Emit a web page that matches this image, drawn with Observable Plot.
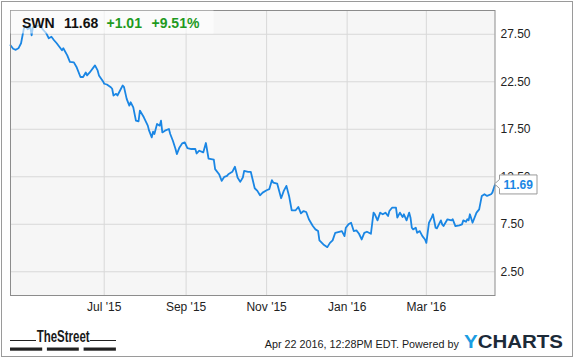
<!DOCTYPE html>
<html>
<head>
<meta charset="utf-8">
<script src="https://cdn.jsdelivr.net/npm/d3@7"></script>
<script src="https://cdn.jsdelivr.net/npm/@observablehq/plot@0.6"></script>
<style>
  html, body { margin: 0; padding: 0; background: #fff; }
  #wrap { position: relative; width: 575px; height: 358px; background: #fff; overflow: hidden; }
  #wrap > svg { position: absolute; left: 0; top: 0; }
  #border { position: absolute; left: 1px; top: 1px; width: 572px; height: 356px; border: 1px solid #9a9a9a; box-sizing: border-box; pointer-events: none; }
</style>
</head>
<body>
<div id="wrap"><div id="border"></div></div>
<script>
// ---- data ----
const ticker = "SWN";
const lastPrice = "11.68";
const change = "+1.01";
const changePct = "+9.51%";
const footerText = "Apr 22 2016, 12:28PM EDT. Powered by";
const startDate = "2015-04-21";
const endDate = "2016-04-22";
const dayOffsets = [
  0,2,4,6,8,9,10,11,13,15,
  16,17,20,22,25,27,29,31,33,35,
  37,39,40,43,45,48,50,53,55,57,
  58,60,64,66,67,70,71,73,76,77,
  78,80,81,83,85,86,88,90,91,93,
  95,97,98,101,104,105,107,108,109,111,
  113,114,115,117,120,121,123,125,126,128,
  130,132,134,137,140,141,143,146,148,150,
  154,155,158,160,162,164,165,168,170,172,
  174,176,177,180,182,185,187,189,191,194,
  196,198,199,202,205,207,209,211,213,216,
  218,220,222,224,226,229,231,233,234,237,
  240,242,244,246,249,251,253,254,256,258,
  260,262,264,266,268,270,273,275,276,278,
  280,282,284,286,287,289,292,293,295,297,
  298,300,302,303,304,305,307,308,310,312,
  314,315,317,319,320,322,323,326,327,328,
  331,334,335,337,340,342,343,345,346,347,
  348,350,353,355,357,359,361,364,365,367
];
const prices = [
  26.34,25.97,25.86,26.02,26.55,27.29,28.03,28.45,28.03,28.24,
  27.39,28.24,28.35,28.45,27.92,27.61,27.08,27.24,26.87,26.55,
  26.18,25.81,26.02,25.28,24.59,24.54,24.06,23.00,23.00,23.48,
  23.17,23.48,24.22,23.69,23.17,22.56,22.29,22.21,21.92,21.76,
  21.05,21.23,21.05,21.58,22.11,21.93,20.70,19.99,20.34,19.81,
  18.41,18.33,19.47,18.76,17.88,17.35,16.64,17.25,17.00,18.06,
  17.88,18.41,17.17,17.35,17.53,17.00,16.29,15.42,14.89,15.59,
  16.01,16.11,15.52,15.42,15.42,14.95,15.24,15.06,16.05,14.42,
  14.29,13.30,12.77,12.07,12.49,12.59,12.77,13.02,13.55,12.42,
  11.96,12.42,13.12,13.02,13.02,11.29,11.01,10.55,10.83,11.08,
  11.19,12.14,11.89,11.78,10.24,11.01,11.54,10.48,8.97,8.97,
  9.32,8.65,8.89,8.79,8.02,7.31,6.96,6.78,5.80,5.37,
  5.09,5.54,5.80,6.60,6.71,6.78,6.25,7.13,7.49,7.66,
  6.78,6.85,6.50,5.90,6.60,6.71,6.50,8.72,8.55,7.91,
  8.72,8.55,8.72,8.37,8.89,9.24,9.24,8.19,8.72,8.26,
  8.55,7.91,8.72,8.19,7.13,6.96,7.13,6.60,6.78,6.25,
  5.90,5.54,7.66,8.19,8.55,7.13,7.07,7.91,7.49,7.31,
  8.02,7.91,8.02,7.31,7.38,7.49,7.91,7.76,8.02,7.91,
  8.55,7.66,8.72,9.07,10.48,10.66,10.48,10.66,10.83,11.69
];
const yTicks = [2.5, 7.5, 12.5, 17.5, 22.5, 27.5];
const xTickDates = ["2015-07-01", "2015-09-01", "2015-11-01", "2016-01-01", "2016-03-01"];
const xTickLabels = ["Jul '15", "Sep '15", "Nov '15", "Jan '16", "Mar '16"];

// ---- build ----
const start = new Date(startDate + "T00:00:00Z");
const data = dayOffsets.map((d, i) => ({ date: d3.utcDay.offset(start, d), price: prices[i] }));
const xTicks = xTickDates.map(s => new Date(s + "T00:00:00Z"));
const labelFor = d => { const i = xTicks.findIndex(t => +t === +d); return i >= 0 ? xTickLabels[i] : ""; };
const FONT = "'Liberation Sans', Arial, Helvetica, sans-serif";

const plot = Plot.plot({
  width: 575,
  height: 320,
  marginLeft: 10,
  marginRight: 80.5,
  marginTop: 10,
  marginBottom: 25,
  style: { fontFamily: FONT, fontSize: "12px", background: "transparent", color: "#222" },
  x: { type: "utc", domain: [start, new Date(endDate + "T00:00:00Z")] },
  y: { domain: [0, 30] },
  marks: [
    Plot.frame({ fill: "#f6f6f6", stroke: null }),
    Plot.gridY(yTicks, { stroke: "#d8d8d8", strokeOpacity: 1 }),
    Plot.gridX(xTicks, { stroke: "#d8d8d8", strokeOpacity: 1 }),
    Plot.line(data, { x: "date", y: "price", stroke: "#1a86e4", strokeWidth: 1.8 }),
    Plot.frame({ stroke: "#8c8c8c" }),
    Plot.axisY(yTicks, { anchor: "right", tickSize: 0, tickPadding: 5.5, tickFormat: d => d.toFixed(2), fill: "#222", fontSize: 12, label: null }),
    Plot.axisX(xTicks, { anchor: "bottom", tickSize: 0, tickPadding: 7, tickFormat: labelFor, fill: "#222", fontSize: 12, label: null })
  ]
});
const wrap = document.getElementById("wrap");
wrap.insertBefore(plot, wrap.firstChild);

// overlay: header box, last-value flag, footer
const sy = plot.scale("y");
const yOf = sy.apply ? v => sy.apply(v)
  : v => sy.range[0] + (v - sy.domain[0]) / (sy.domain[1] - sy.domain[0]) * (sy.range[1] - sy.range[0]);
const sx = plot.scale("x");
const rightEdge = sx.range[1];
const last = prices[prices.length - 1];
const ly = yOf(last);

const ov = d3.create("svg").attr("width", 575).attr("height", 358)
  .style("position", "absolute").style("left", 0).style("top", 0)
  .style("font-family", FONT);

// header
ov.append("rect").attr("x", 10.5).attr("y", 10.5).attr("width", 203).attr("height", 23)
  .attr("fill", "#fff").attr("fill-opacity", 0.6);
const hdr = [
  { t: ticker, x: 22, c: "#111" },
  { t: lastPrice, x: 64, c: "#111" },
  { t: change, x: 106.5, c: "#1f9a1f" },
  { t: changePct, x: 151.5, c: "#1f9a1f" }
];
hdr.forEach(h => ov.append("text").attr("x", h.x).attr("y", 28).attr("fill", h.c)
  .attr("font-size", 14).attr("font-weight", "bold").text(h.t));

// last value flag
const bx = rightEdge + 5;
ov.append("path")
  .attr("d", `M${rightEdge},${ly} L${bx},${ly - 4.5} L${bx},${ly - 9} L${bx + 37.5},${ly - 9} L${bx + 37.5},${ly + 10} L${bx},${ly + 10} L${bx},${ly + 4.5} Z`)
  .attr("fill", "#fff").attr("stroke", "#9a9a9a").attr("stroke-width", 1);
ov.append("text").attr("x", bx + 18.75).attr("y", ly + 4.8).attr("text-anchor", "middle")
  .attr("fill", "#1a86e4").attr("font-size", 12).attr("font-weight", "bold").text(last.toFixed(2));

// footer: TheStreet logo
ov.append("text").attr("x", 36.7).attr("y", 341.5).attr("font-size", 16).attr("font-weight", "bold")
  .attr("fill", "#1a1a1a").attr("textLength", 53).attr("lengthAdjust", "spacingAndGlyphs").text("TheStreet");
ov.append("line").attr("x1", 10).attr("x2", 36).attr("y1", 340.5).attr("y2", 340.5).attr("stroke", "#222");
ov.append("line").attr("x1", 90).attr("x2", 116).attr("y1", 340.5).attr("y2", 340.5).attr("stroke", "#222");
[[10, 42.2], [46.9, 78.8], [83.6, 115.9]].forEach(([a, b]) =>
  ov.append("rect").attr("x", a).attr("y", 347.5).attr("width", b - a).attr("height", 3.2).attr("fill", "#222"));

// footer: timestamp + YCHARTS
ov.append("text").attr("x", 264.8).attr("y", 348.3).attr("font-size", 11).attr("fill", "#1a1a1a")
  .attr("textLength", 194).attr("lengthAdjust", "spacingAndGlyphs").text(footerText);
const yc = ov.append("text").attr("x", 464).attr("y", 348.3).attr("font-size", 19).attr("font-weight", "bold")
  .attr("textLength", 99).attr("lengthAdjust", "spacingAndGlyphs");
yc.append("tspan").attr("fill", "#1b9de2").text("Y");
yc.append("tspan").attr("fill", "#1c2a38").text("CHARTS");

wrap.insertBefore(ov.node(), document.getElementById("border"));
</script>
</body>
</html>
